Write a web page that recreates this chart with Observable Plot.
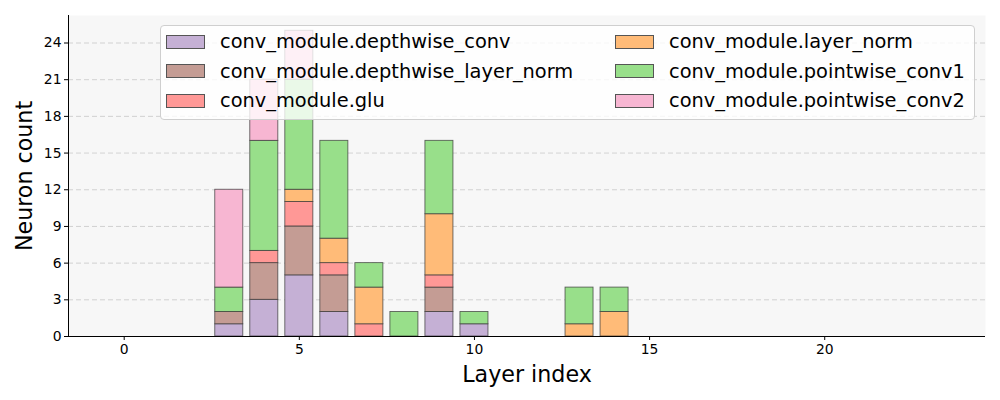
<!DOCTYPE html>
<html>
<head>
<meta charset="utf-8">
<script src="https://cdn.jsdelivr.net/npm/d3@7"></script>
<script src="https://cdn.jsdelivr.net/npm/@observablehq/plot@0.6"></script>
<style>
  html, body { margin: 0; padding: 0; background: #fff; }
  #wrap { position: relative; width: 1000px; height: 400px; font-family: "DejaVu Sans", sans-serif; }
  #legend {
    position: absolute; left: 160px; top: 25px; width: 815px; height: 95px;
    background: rgba(255,255,255,0.8); border: 1px solid #cfcfcf; border-radius: 4px;
    box-sizing: border-box;
  }
  .item { position: absolute; display: flex; align-items: center; font-size: 19.4px; color: #000; white-space: nowrap; }
  .patch { width: 39px; height: 14px; border: 1px solid #555; box-sizing: border-box; margin-right: 15px; }
</style>
</head>
<body>
<div id="wrap"><div id="legend"></div></div>
<script>
const layers = d3.range(0, 24);
const components = [
  "conv_module.depthwise_conv",
  "conv_module.depthwise_layer_norm",
  "conv_module.glu",
  "conv_module.layer_norm",
  "conv_module.pointwise_conv1",
  "conv_module.pointwise_conv2"
];
const colors = ["#c5b0d5", "#c49c94", "#ff9896", "#ffbb78", "#98df8a", "#f7b6d2"];
//                         0  1  2  3  4  5  6  7  8  9 10 11 12 13 14 15 16 17 18 19 20 21 22 23
const depthwiseConv     = [0, 0, 0, 1, 3, 5, 2, 0, 0, 2, 1, 0, 0, 0, 0, 0, 0, 0, 0, 0, 0, 0, 0, 0];
const depthwiseLayerNorm= [0, 0, 0, 1, 3, 4, 3, 0, 0, 2, 0, 0, 0, 0, 0, 0, 0, 0, 0, 0, 0, 0, 0, 0];
const glu               = [0, 0, 0, 0, 1, 2, 1, 1, 0, 1, 0, 0, 0, 0, 0, 0, 0, 0, 0, 0, 0, 0, 0, 0];
const layerNorm         = [0, 0, 0, 0, 0, 1, 2, 3, 0, 5, 0, 0, 0, 1, 2, 0, 0, 0, 0, 0, 0, 0, 0, 0];
const pointwiseConv1    = [0, 0, 0, 2, 9, 9, 8, 2, 2, 6, 1, 0, 0, 3, 2, 0, 0, 0, 0, 0, 0, 0, 0, 0];
const pointwiseConv2    = [0, 0, 0, 8, 5, 4, 0, 0, 0, 0, 0, 0, 0, 0, 0, 0, 0, 0, 0, 0, 0, 0, 0, 0];
const series = [depthwiseConv, depthwiseLayerNorm, glu, layerNorm, pointwiseConv1, pointwiseConv2];
const yTicks = [0, 3, 6, 9, 12, 15, 18, 21, 24];
const xTicks = [0, 5, 10, 15, 20];
const barWidth = 0.8;

// stacked rows
const rows = [];
layers.forEach((L, i) => {
  let base = 0;
  series.forEach((s, k) => {
    const v = s[i];
    if (v > 0) {
      rows.push({layer: L, comp: components[k], y1: base, y2: base + v});
      base += v;
    }
  });
});

const xMin = -barWidth / 2, xMax = layers[layers.length - 1] + barWidth / 2;
const pad = (xMax - xMin) * 0.05;
const yMax = d3.max(layers.map((_, i) => d3.sum(series, s => s[i]))) * 1.05;

const chart = Plot.plot({
  width: 1000,
  height: 400,
  marginLeft: 68,
  marginRight: 15,
  marginTop: 15,
  marginBottom: 64,
  style: {fontFamily: "DejaVu Sans", background: "transparent", overflow: "visible"},
  x: {domain: [xMin - pad, xMax + pad]},
  y: {domain: [0, yMax]},
  color: {domain: components, range: colors},
  marks: [
    Plot.frame({fill: "#f7f7f7", stroke: null}),
    Plot.gridY(yTicks.slice(1), {stroke: "#c8c8c8", strokeOpacity: 1, strokeDasharray: "5,3", strokeWidth: 0.8}),
    Plot.rect(rows, {
      x1: d => d.layer - barWidth / 2,
      x2: d => d.layer + barWidth / 2,
      y1: "y1", y2: "y2",
      fill: "comp",
      stroke: "#333", strokeOpacity: 0.75, strokeWidth: 0.9
    }),
    Plot.axisY(yTicks, {tickSize: 4, fontSize: 13.9, label: null, stroke: "#000", color: "#000", tickPadding: 3}),
    Plot.axisX(xTicks, {tickSize: 4, fontSize: 13.9, label: null, color: "#000", tickPadding: 4}),
    Plot.ruleX([xMin - pad], {stroke: "#000", strokeWidth: 1}),
    Plot.ruleY([0], {stroke: "#000", strokeWidth: 1}),
    Plot.text(["Neuron count"], {frameAnchor: "left", dx: -44, rotate: -90, textAnchor: "middle", lineAnchor: "middle", fontSize: 22.2, fill: "#000"}),
    Plot.text(["Layer index"], {frameAnchor: "bottom", dy: 38, textAnchor: "middle", lineAnchor: "middle", fontSize: 22.2, fill: "#000"})
  ]
});
document.getElementById("wrap").prepend(chart);

const legend = document.getElementById("legend");
const cols = [[0, 1, 2], [3, 4, 5]];
cols.forEach((col, c) => {
  col.forEach((k, r) => {
    const it = document.createElement("div");
    it.className = "item";
    it.style.left = (c === 0 ? 5 : 454) + "px";
    it.style.top = (4 + r * 29.5) + "px";
    const p = document.createElement("span");
    p.className = "patch";
    p.style.background = colors[k];
    const t = document.createElement("span");
    t.textContent = components[k];
    it.appendChild(p); it.appendChild(t);
    legend.appendChild(it);
  });
});
</script>
</body>
</html>
